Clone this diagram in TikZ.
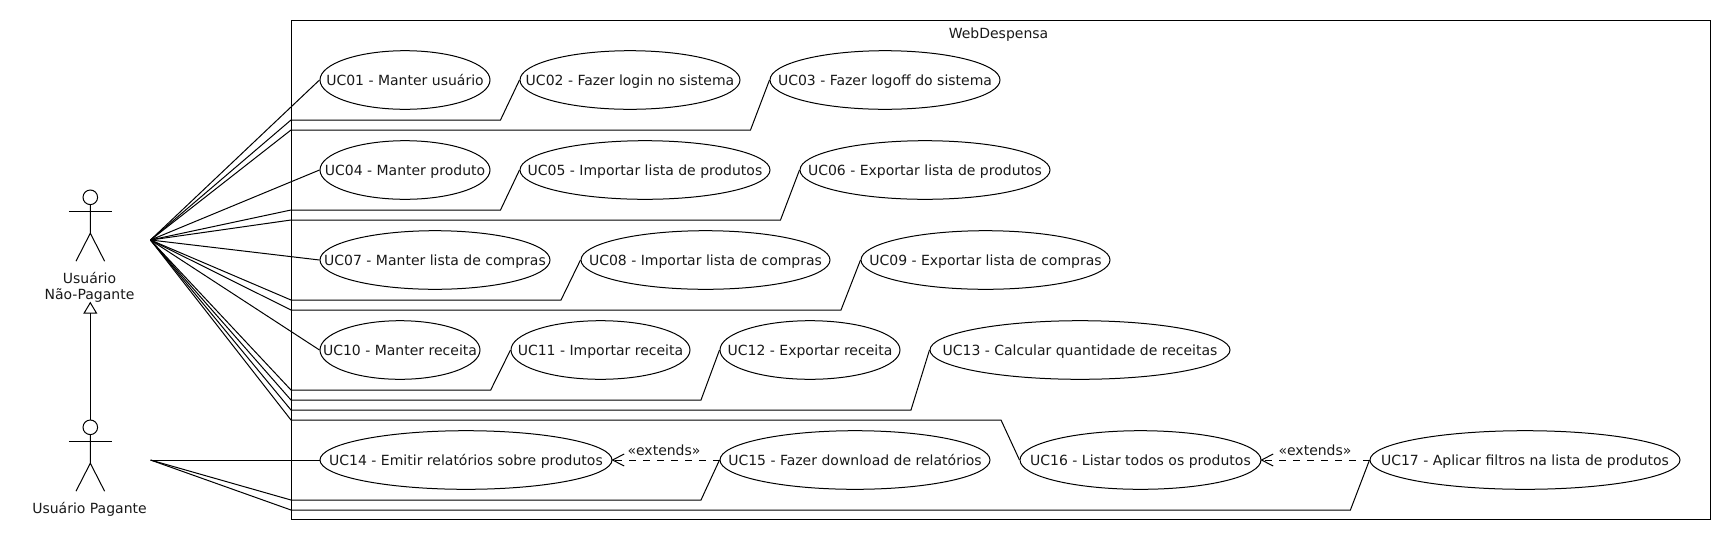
\documentclass[tikz,border=0pt]{standalone}
\usepackage{fontspec}
\setmainfont{DejaVu Sans}
\usetikzlibrary{shapes.geometric,arrows.meta}
\tikzset{
  uc/.style={draw=black,ellipse,inner xsep=-80pt,inner ysep=-20pt,minimum height=58.6pt,line width=1pt,text height=13.6pt,text depth=3pt,font=\fontsize{14}{16}\selectfont,text=black!90},
  lnk/.style={draw=black,line width=1pt,line join=miter},
  ext/.style={lnk,dash pattern=on 7pt off 7pt},
  extlab/.style={font=\fontsize{14}{16}\selectfont,inner sep=0pt,text=black!90,anchor=base},
  actlab/.style={font=\fontsize{14}{16}\selectfont,inner sep=0pt,align=center,text=black!90},
  head/.style={draw=black,circle,line width=1pt,inner sep=0pt,minimum size=14.6pt},
  frame/.style={draw=black,line width=1pt,inner sep=0pt},
}
\newcommand{\stick}[3]{% name, x, y of head centre
  \node[head] (#1) at (#2,#3) {};
  \draw[lnk] (#1.south) -- ++(0,28.1) ++(-14.3,28) -- ++(14.3,-28) -- ++(14.3,28);
  \draw[lnk] (#2-21.5,#3+14) -- (#2+21.5,#3+14);
}
\newcommand{\barb}[1]{\draw[lnk] (#1) ++(11.7,-6) -- (#1) -- ++(11.7,6);}
\begin{document}
\begin{tikzpicture}[x=1pt,y=-1pt]
\useasboundingbox (0,0) rectangle (1730,550);
\node[frame,minimum width=1419pt,minimum height=499.3pt,anchor=north west] (sys) at (290.7,20) {};
\node[extlab] (title) at (998.5,38) {WebDespensa};
\coordinate (np) at (150.5,240);
\coordinate (pg) at (150.5,460);
\stick{hn}{90.3}{197.3}
\stick{hp}{90.3}{427.3}
\node[actlab] (ln) at (89.5,287.6) {Usuário\\Não-Pagante};
\node[extlab] (lp) at (89.5,513.3) {Usuário Pagante};
\coordinate (gentip) at (90.3,301.7);
\draw[lnk,-{Triangle[open,length=12pt,width=14pt,line width=1pt]}] (hp.north) -- (gentip);
\newcommand{\ucn}[5]{\node[uc,minimum width=#3 pt-#2 pt] (#1) at ({(#2+#3)/2},#4) {#5};}
\ucn{u1}{320}{490}{80}{UC01 - Manter usuário}
\ucn{u2}{520}{740}{80}{UC02 - Fazer login no sistema}
\ucn{u3}{770}{1000}{80}{UC03 - Fazer logoff do sistema}
\ucn{u4}{320}{490}{170}{UC04 - Manter produto}
\ucn{u5}{520}{770}{170}{UC05 - Importar lista de produtos}
\ucn{u6}{800}{1050}{170}{UC06 - Exportar lista de produtos}
\ucn{u7}{320}{550}{260}{UC07 - Manter lista de compras}
\ucn{u8}{581}{830}{260}{UC08 - Importar lista de compras}
\ucn{u9}{861}{1110}{260}{UC09 - Exportar lista de compras}
\ucn{u10}{320}{480}{350}{UC10 - Manter receita}
\ucn{u11}{511}{690}{350}{UC11 - Importar receita}
\ucn{u12}{720}{900}{350}{UC12 - Exportar receita}
\ucn{u13}{930}{1230}{350}{UC13 - Calcular quantidade de receitas}
\ucn{u14}{320}{612}{460}{UC14 - Emitir relatórios sobre produtos}
\ucn{u15}{720}{990}{460}{UC15 - Fazer download de relatórios}
\ucn{u16}{1020}{1261}{460}{UC16 - Listar todos os produtos}
\ucn{u17}{1370}{1680}{460}{UC17 - Aplicar filtros na lista de produtos}
\draw[lnk] (np) -- (u1.west);
\draw[lnk] (np) -- (291,120) -- (500.5,120) -- (u2.west);
\draw[lnk] (np) -- (291,130) -- (750.5,130) -- (u3.west);
\draw[lnk] (np) -- (u4.west);
\draw[lnk] (np) -- (291,210) -- (500.5,210) -- (u5.west);
\draw[lnk] (np) -- (291,220) -- (780.5,220) -- (u6.west);
\draw[lnk] (np) -- (u7.west);
\draw[lnk] (np) -- (291,300) -- (561,300) -- (u8.west);
\draw[lnk] (np) -- (291,310) -- (841,310) -- (u9.west);
\draw[lnk] (np) -- (u10.west);
\draw[lnk] (np) -- (291,390) -- (490.7,390) -- (u11.west);
\draw[lnk] (np) -- (291,400) -- (701,400) -- (u12.west);
\draw[lnk] (np) -- (291,410) -- (911,410) -- (u13.west);
\draw[lnk] (np) -- (291,420) -- (1001,420) -- (u16.west);
\draw[lnk] (pg) -- (u14.west);
\draw[lnk] (pg) -- (291,500) -- (701,500) -- (u15.west);
\draw[lnk] (pg) -- (291,510) -- (1350.4,510) -- (u17.west);
\draw[ext] (u15.west) -- (u14.east);
\draw[ext] (u17.west) -- (u16.east);
\barb{u14.east}
\barb{u16.east}
\node[extlab] (e1) at (664,455.7) {«extends»};
\node[extlab] (e2) at (1315,455.7) {«extends»};
\end{tikzpicture}
\end{document}
